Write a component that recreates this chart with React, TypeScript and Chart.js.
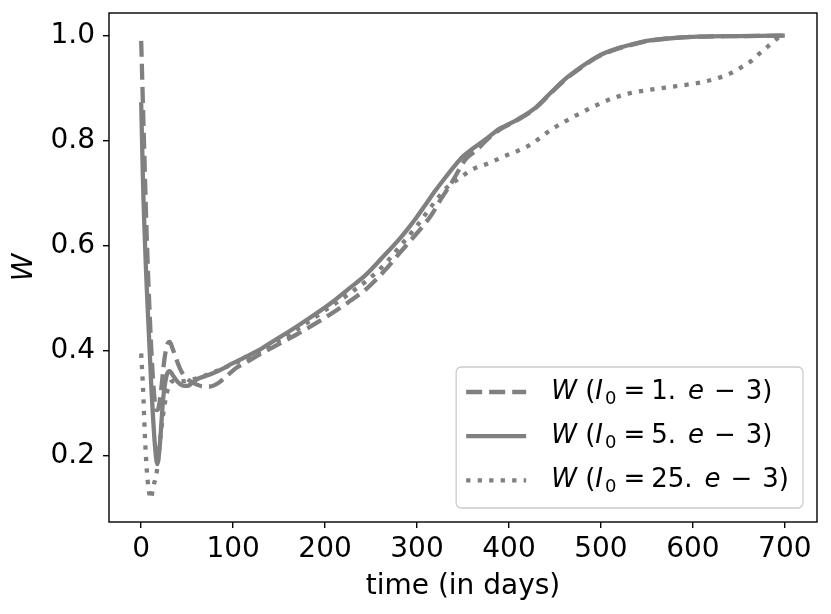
import React, { useEffect, useRef } from 'react';
import { Chart, registerables } from 'chart.js';

Chart.register(...registerables);

// W over time for three initial infection levels (I0 = 1e-3, 5e-3, 25e-3)
const days1 = [0, 3, 6, 9, 12, 15, 17, 19, 22, 25, 28, 31, 34, 38, 42, 46, 51, 60, 68, 75, 85, 95, 104, 115, 129, 150, 175, 200, 225, 245, 265, 281, 300, 310, 317, 324, 338, 353, 365, 375, 389, 396, 411, 429, 447, 461, 480, 497, 515, 533, 550, 570, 606, 650, 700];
const w1 = [0.99, 0.8, 0.62, 0.48, 0.37, 0.3, 0.287, 0.292, 0.33, 0.38, 0.41, 0.417, 0.405, 0.385, 0.367, 0.354, 0.345, 0.336, 0.332, 0.332, 0.34, 0.355, 0.368, 0.379, 0.393, 0.413, 0.437, 0.463, 0.492, 0.518, 0.553, 0.586, 0.624, 0.645, 0.662, 0.683, 0.721, 0.765, 0.782, 0.8, 0.82, 0.827, 0.841, 0.862, 0.893, 0.916, 0.941, 0.96, 0.973, 0.982, 0.989, 0.994, 0.998, 0.999, 1.0];

const days5 = [0, 2, 6, 11, 15, 17.5, 20, 24, 28, 31, 35, 40, 45, 50, 55, 60, 70, 78, 90, 96, 110, 129, 136, 150, 175, 208, 225, 244, 262, 281, 290, 300, 310, 320, 330, 340, 350, 360, 375, 389, 396, 411, 429, 447, 461, 480, 497, 515, 533, 550, 570, 606, 650, 700];
const w5 = [0.873, 0.72, 0.522, 0.333, 0.219, 0.184, 0.215, 0.31, 0.355, 0.361, 0.352, 0.34, 0.334, 0.333, 0.338, 0.345, 0.352, 0.357, 0.367, 0.373, 0.385, 0.402, 0.41, 0.425, 0.453, 0.493, 0.517, 0.544, 0.577, 0.613, 0.632, 0.655, 0.68, 0.705, 0.728, 0.75, 0.77, 0.784, 0.803, 0.822, 0.828, 0.842, 0.863, 0.894, 0.917, 0.942, 0.961, 0.974, 0.983, 0.99, 0.994, 0.998, 0.999, 1.0];

const days25 = [0, 2, 4, 6, 8, 10.5, 13, 17, 20, 24, 28, 32, 38, 45, 55, 65, 80, 100, 129, 150, 175, 200, 225, 245, 265, 281, 300, 320, 335, 345, 360, 375, 396, 421, 447, 472, 497, 515, 533, 550, 570, 606, 625, 642, 653, 663, 672, 682, 694, 700];
const w25 = [0.395, 0.33, 0.24, 0.175, 0.138, 0.118, 0.14, 0.17, 0.22, 0.28, 0.32, 0.34, 0.343, 0.342, 0.345, 0.35, 0.36, 0.375, 0.398, 0.42, 0.447, 0.477, 0.507, 0.533, 0.565, 0.598, 0.638, 0.685, 0.715, 0.727, 0.745, 0.755, 0.771, 0.79, 0.822, 0.847, 0.869, 0.882, 0.891, 0.896, 0.901, 0.91, 0.918, 0.929, 0.94, 0.951, 0.965, 0.98, 0.997, 1.0];

const i0Values = ['1', '5', '25'];
const xTicks = [0, 100, 200, 300, 400, 500, 600, 700];
const yTicks = [0.2, 0.4, 0.6, 0.8, 1.0];

const FONT = '"DejaVu Sans", sans-serif';
const GRAY = '#808080';
const LW = 4.3;

const toPoints = (xs: number[], ys: number[]) => xs.map((x, i) => ({ x, y: ys[i] }));

// mathtext-like label: W (I_0 = v. e - 3)
const drawLabel = (ctx: CanvasRenderingContext2D, x: number, base: number, v: string, size: number) => {
  const k = size / 26;
  const reg = `${size}px ${FONT}`;
  const ita = `italic ${size}px ${FONT}`;
  const sub = `${Math.round(size * 0.7)}px ${FONT}`;
  // text, font, baseline shift, space before
  const parts: [string, string, number, number][] = [
    ['W', ita, 0, 0],
    [' (', reg, 0, 0],
    ['I', ita, 0, 0],
    ['0', sub, size * 0.18, 2 * k],
    ['=', reg, 0, 7 * k],
    [v + '.', reg, 0, 6 * k],
    ['e', ita, 0, 12 * k],
    ['\u2212', reg, 0, 10 * k],
    ['3)', reg, 0, 10 * k],
  ];
  let cx = x;
  ctx.textBaseline = 'alphabetic';
  ctx.textAlign = 'left';
  ctx.fillStyle = '#000';
  for (const [t, f, dy, pre] of parts) {
    cx += pre;
    ctx.font = f;
    ctx.fillText(t, cx, base + dy);
    cx += ctx.measureText(t).width;
  }
  return cx - x;
};

const framePlugin = {
  id: 'frame',
  afterDatasetsDraw(chart: any) {
    const { ctx, chartArea: a } = chart;
    ctx.save();
    ctx.strokeStyle = '#000';
    ctx.lineWidth = 1.4;
    ctx.strokeRect(a.left, a.top, a.right - a.left, a.bottom - a.top);

    // legend box in the lower right corner
    const size = 26;
    const widths = i0Values.map((v) => drawLabel(ctx, -1000, -1000, v, size));
    const textW = Math.max(...widths);
    const boxW = 10 + 60 + 25 + textW + 14;
    const boxH = 141;
    const right = a.right - 14;
    const bottom = a.bottom - 14;
    const left = right - boxW;
    const top = bottom - boxH;
    ctx.beginPath();
    ctx.roundRect(left, top, boxW, boxH, 5);
    ctx.fillStyle = 'rgba(255,255,255,0.8)';
    ctx.fill();
    ctx.strokeStyle = '#cccccc';
    ctx.lineWidth = 1.3;
    ctx.stroke();

    chart.data.datasets.forEach((ds: any, i: number) => {
      const cy = top + 25 + i * 44.2;
      ctx.beginPath();
      ctx.setLineDash(ds.borderDash || []);
      ctx.strokeStyle = ds.borderColor;
      ctx.lineWidth = ds.borderWidth;
      ctx.lineCap = 'butt';
      ctx.moveTo(left + 10, cy);
      ctx.lineTo(left + 70, cy);
      ctx.stroke();
      ctx.setLineDash([]);
      drawLabel(ctx, left + 95, cy + 7, i0Values[i], size);
    });
    ctx.restore();
  },
};

export default function App() {
  const canvasRef = useRef<HTMLCanvasElement>(null);
  const chartRef = useRef<Chart | null>(null);

  useEffect(() => {
    if (!canvasRef.current) return;
    if (chartRef.current) chartRef.current.destroy();

    const line = (data: number[], xs: number[], dash: number[], order: number) => ({
      data: toPoints(xs, data),
      borderColor: GRAY,
      borderWidth: LW,
      borderDash: dash,
      pointRadius: 0,
      fill: false,
      cubicInterpolationMode: 'monotone' as const,
      order,
    });

    chartRef.current = new Chart(canvasRef.current, {
      type: 'line',
      data: {
        datasets: [
          line(w1, days1, [16, 7], 2),
          line(w5, days5, [], 1),
          line(w25, days25, [4.3, 7.2], 0),
        ],
      },
      options: {
        animation: false,
        responsive: true,
        maintainAspectRatio: false,
        layout: { padding: { top: 13, right: 14, left: 0, bottom: 0 } },
        plugins: { legend: { display: false }, tooltip: { enabled: false } },
        scales: {
          x: {
            type: 'linear',
            min: -35,
            max: 735,
            afterBuildTicks: (s: any) => {
              s.ticks = xTicks.map((v) => ({ value: v }));
            },
            afterFit: (s: any) => {
              s.height = 92;
              s.paddingLeft = 0;
              s.paddingRight = 0;
            },
            grid: { drawOnChartArea: false, drawTicks: true, tickLength: 6, color: '#000', lineWidth: 1.4 },
            border: { display: false },
            ticks: {
              color: '#000',
              font: { family: FONT, size: 28 },
              padding: 5,
              maxRotation: 0,
              callback: (v: any) => String(v),
            },
            title: {
              display: true,
              text: 'time (in days)',
              color: '#000',
              font: { family: FONT, size: 28 },
              padding: { top: 0, bottom: 10 },
            },
          },
          y: {
            type: 'linear',
            min: 0.074,
            max: 1.043,
            afterBuildTicks: (s: any) => {
              s.ticks = yTicks.map((v) => ({ value: v }));
            },
            afterFit: (s: any) => {
              s.width = 109;
              s.paddingTop = 0;
              s.paddingBottom = 0;
            },
            grid: { drawOnChartArea: false, drawTicks: true, tickLength: 6, color: '#000', lineWidth: 1.4 },
            border: { display: false },
            ticks: {
              color: '#000',
              font: { family: FONT, size: 28 },
              padding: 8,
              callback: (v: any) => Number(v).toFixed(1),
            },
            title: {
              display: true,
              text: 'W',
              color: '#000',
              font: { family: FONT, size: 28, style: 'italic' },
              padding: { top: 8, bottom: 0 },
            },
          },
        },
      },
      plugins: [framePlugin],
    });

    return () => {
      if (chartRef.current) {
        chartRef.current.destroy();
        chartRef.current = null;
      }
    };
  }, []);

  return (
    <div style={{ position: 'absolute', left: 0, top: 0, width: 831, height: 614, background: '#fff' }}>
      <canvas ref={canvasRef} />
    </div>
  );
}
